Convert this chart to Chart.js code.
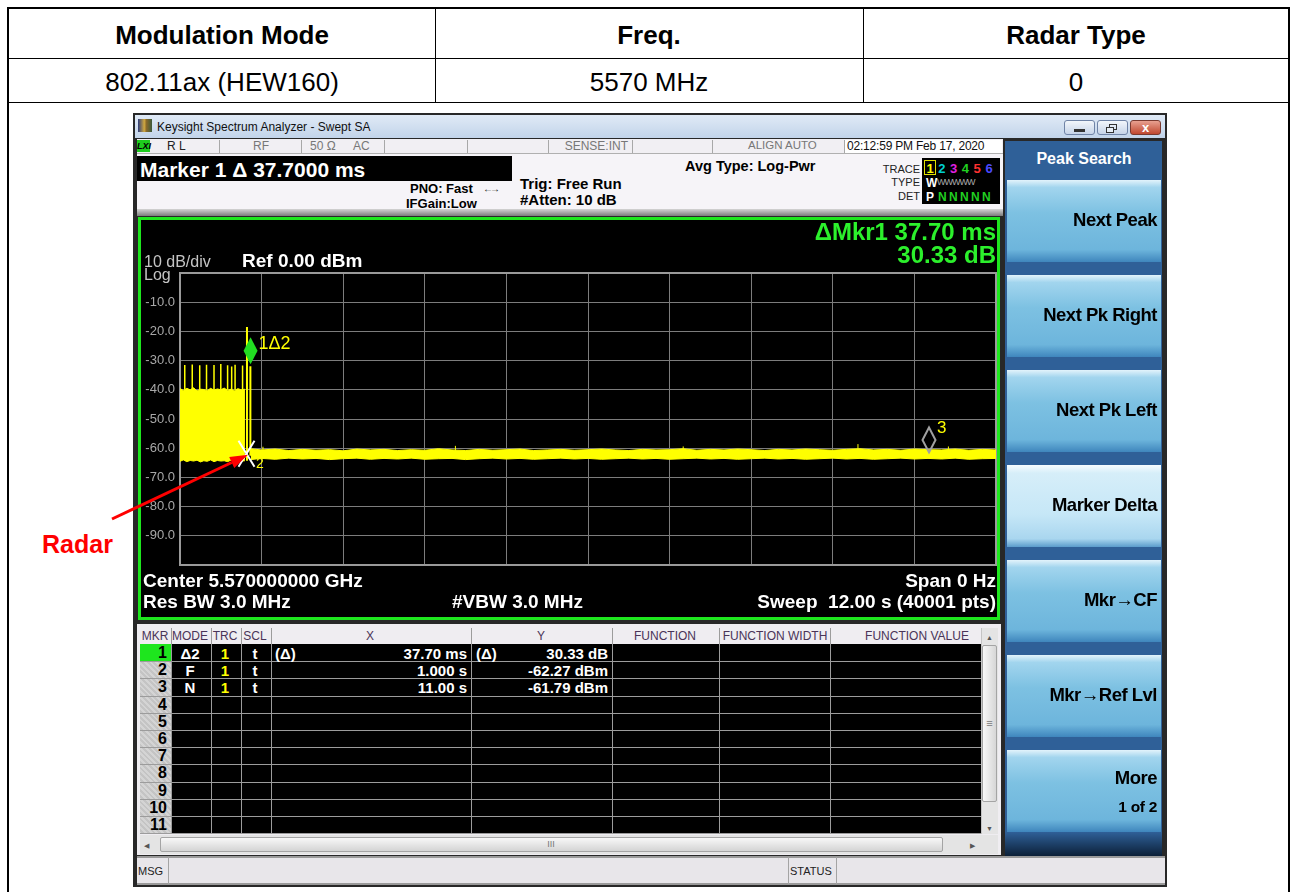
<!DOCTYPE html>
<html>
<head>
<meta charset="utf-8">
<title>Radar Type 0 - 5570 MHz</title>
<script src="https://cdn.jsdelivr.net/npm/chart.js@4.4.1/dist/chart.umd.min.js"></script>
<style>
    body { margin: 0; background: #fff; overflow: hidden; font-family: 'Liberation Sans', Arial, sans-serif; }
    #page { position: relative; width: 1291px; height: 892px; }
    .b { position: absolute; box-sizing: border-box; }
    .t { position: absolute; white-space: nowrap; line-height: 1; }
</style>
</head>
<body>
<div id="page"></div>
<script>
// time axis in seconds (span 0 Hz, 12 s sweep), level in dBm
const xGridTicks = [0, 1.2, 2.4, 3.6, 4.8, 6, 7.2, 8.4, 9.6, 10.8, 12];
const yTickValues = [0, -10, -20, -30, -40, -50, -60, -70, -80, -90, -100];
const yTickLabels = ['', '-10.0', '-20.0', '-30.0', '-40.0', '-50.0', '-60.0', '-70.0', '-80.0', '-90.0', ''];

// radar burst envelope (top / bottom of the yellow block)
const burstTimes = [0, 0.05, 0.10, 0.15, 0.20, 0.25, 0.30, 0.35, 0.40, 0.45, 0.50, 0.55, 0.60, 0.65, 0.70, 0.75, 0.80, 0.85, 0.90, 0.955];
const burstHigh = [-39.6, -40.2, -39.5, -40.0, -39.3, -40.4, -39.8, -39.9, -40.3, -39.5, -40.1, -39.7, -40.0, -39.4, -40.2, -39.8, -40.3, -39.6, -40.0, -39.8];
const burstLow = [-64.5, -64.0, -64.6, -64.2, -64.4, -64.1, -64.7, -64.3, -64.5, -64.0, -64.6, -64.2, -64.4, -64.3, -64.6, -64.1, -64.5, -64.2, -64.4, -64.3];

// pulses sticking out of the burst
const pulseTimes = [0.07, 0.18, 0.29, 0.39, 0.50, 0.60, 0.70, 0.76, 0.81, 0.92];
const pulseTops = [-31.5, -31.3, -31.6, -31.4, -31.5, -31.2, -31.6, -32.0, -31.4, -31.7];
const pulseBase = -40;

// the two lines at the end of the burst
const edgeTimes = [0.985, 1.035];
const edgeTops = [-18.5, -31.9];
const edgeBases = [-64.3, -62.6];

// noise floor after the burst
const floorTimes = [1.04, 1.2, 1.4, 1.6, 1.8, 2.0, 2.2, 2.4, 2.6, 2.8, 3.0, 3.2, 3.4, 3.6, 3.8, 4.0, 4.2, 4.4, 4.6, 4.8,
    5.0, 5.2, 5.4, 5.6, 5.8, 6.0, 6.2, 6.4, 6.6, 6.8, 7.0, 7.2, 7.4, 7.6, 7.8, 8.0, 8.2, 8.4, 8.6, 8.8,
    9.0, 9.2, 9.4, 9.6, 9.8, 10.0, 10.2, 10.4, 10.6, 10.8, 11.0, 11.2, 11.4, 11.6, 11.8, 12.0];
const floorHigh = [-60.2, -60.6, -60.3, -60.8, -60.4, -60.7, -60.5, -60.9, -60.3, -60.6,
    -60.4, -60.8, -60.5, -60.7, -60.2, -60.6, -60.8, -60.4, -60.7, -60.5,
    -60.3, -60.8, -60.6, -60.4, -60.7, -60.5, -60.3, -60.6, -60.8, -60.4,
    -60.6, -60.5, -60.2, -60.7, -60.4, -60.6, -60.3, -60.5, -60.8, -60.4,
    -60.6, -60.3, -60.5, -60.7, -60.4, -60.2, -60.6, -60.4, -60.7, -60.3,
    -60.5, -60.6, -60.3, -60.7, -60.4, -60.6];
const floorLow = [-63.9, -63.5, -63.8, -63.4, -63.7, -63.5, -63.9, -63.6, -63.4, -63.8,
    -63.5, -63.7, -63.4, -63.8, -63.6, -63.5, -63.9, -63.6, -63.4, -63.7,
    -63.5, -63.8, -63.6, -63.4, -63.7, -63.5, -63.8, -63.6, -63.4, -63.7,
    -63.5, -63.8, -63.6, -63.4, -63.7, -63.5, -63.8, -63.6, -63.4, -63.7,
    -63.5, -63.8, -63.6, -63.4, -63.7, -63.5, -63.8, -63.6, -63.4, -63.7,
    -63.5, -63.7, -63.4, -63.8, -63.6, -63.5];
const blipTimes = [1.22, 4.05, 7.4, 9.97, 11.3];
const blipTops = [-59.5, -59.2, -59.4, -58.6, -59.4];

// markers
const mkrNames = ['1\u03942', '2', '3'];
const mkrTimes = [1.0377, 1.000, 11.00];
const mkrLevels = [-31.94, -62.27, -61.79];

// marker table rows
const mkrModes = ['\u03942', 'F', 'N'];
const mkrX = ['37.70 ms', '1.000 s', '11.00 s'];
const mkrY = ['30.33 dB', '-62.27 dBm', '-61.79 dBm'];

const softkeys = ['Next Peak', 'Next Pk Right', 'Next Pk Left', 'Marker Delta', 'Mkr\u2192CF', 'Mkr\u2192Ref Lvl', 'More'];

const page = document.getElementById('page');

function box(x, y, w, h, css) {
    const d = document.createElement('div');
    d.className = 'b';
    d.style.cssText = `left:${x}px;top:${y}px;width:${w}px;height:${h}px;` + (css || '');
    page.appendChild(d);
    return d;
}

function txt(str, x, base, size, css, align) {
    const d = document.createElement('div');
    d.className = 't';
    d.textContent = str;
    let pos = `top:${(base - 0.847 * size).toFixed(1)}px;font-size:${size}px;`;
    if (align === 'r') pos += `right:${1291 - x}px;`;
    else if (align === 'c') pos += `left:${x - 300}px;width:600px;text-align:center;`;
    else pos += `left:${x}px;`;
    d.style.cssText = pos + (css || '');
    page.appendChild(d);
    return d;
}

const B = 'font-weight:bold;';
const K = 'background:#000;';

// report table
box(7, 7, 1283, 2, K);
box(7, 7, 2, 885, K);
box(1288, 7, 2, 885, K);
box(8, 58, 1281, 1, K);
box(8, 102, 1281, 1, K);
box(435, 8, 1, 95, K);
box(863, 8, 1, 95, K);
txt('Modulation Mode', 222, 44, 26, B, 'c');
txt('Freq.', 649, 44, 26, B, 'c');
txt('Radar Type', 1076, 44, 26, B, 'c');
txt('802.11ax (HEW160)', 222, 91, 26, '', 'c');
txt('5570 MHz', 649, 91, 26, '', 'c');
txt('0', 1076, 91, 26, '', 'c');

// analyzer window
box(133, 113, 1034, 774, 'background:#282828');
box(135, 115, 1030, 23, 'background:linear-gradient(#e0eaf6,#c2d4ea)');
box(138, 119, 14, 13, 'background:linear-gradient(90deg,#2c3c7c,#d0a840 45%,#8a6a2a 60%,#3c5a3c)');
txt('Keysight Spectrum Analyzer - Swept SA', 157, 131, 12, 'color:#111');
box(1064, 120, 31, 15, 'border:1px solid #6f83a6;border-radius:3px;background:linear-gradient(#f2f6fb,#c6d4e8)');
box(1074, 129, 11, 3, 'background:#333');
box(1097, 120, 31, 15, 'border:1px solid #6f83a6;border-radius:3px;background:linear-gradient(#f2f6fb,#c6d4e8)');
box(1109, 124, 8, 6, 'border:1px solid #333');
box(1106, 127, 8, 6, 'border:1px solid #333;background:#e6edf6');
box(1130, 120, 31, 15, 'border:1px solid #7a3a30;border-radius:3px;background:linear-gradient(#e8a090,#c04830)');
txt('x', 1145.5, 132, 13, B + 'color:#fff', 'c');

// status line
box(137, 139, 866, 15, 'background:#f1eff3;border-bottom:1px solid #b0b0b0');
box(137, 140, 13, 12, 'background:#1ecc1e');
txt('LXI', 137, 150, 9, B + 'font-style:italic;color:#000');
[219, 301, 384, 467, 548, 632, 712, 844].forEach(x => box(x, 140, 1, 13, 'background:#a8a8a8'));
txt('R L', 167, 150, 12, 'color:#222');
txt('RF', 253, 150, 12, 'color:#777');
txt('50 \u03a9', 310, 150, 12, 'color:#777');
txt('AC', 353, 150, 12, 'color:#777');
txt('SENSE:INT', 628, 150, 12, 'color:#777', 'r');
txt('ALIGN AUTO', 748, 150, 11.5, 'color:#777');
box(845, 140, 157, 13, 'background:#fff');
txt('02:12:59 PM Feb 17, 2020', 847, 150, 12, 'color:#111;letter-spacing:-0.2px');

// setup summary
box(137, 154, 866, 55, 'background:#f6f4f8');
box(137, 156, 375, 25, K);
txt('Marker 1 \u0394 37.7000 ms', 140, 177, 21, B + 'color:#fff');
txt('PNO: Fast', 410, 193, 13, B);
txt('\u2190\u2192', 483, 192, 10, 'color:#222;letter-spacing:-3px');
txt('IFGain:Low', 406, 208, 13, B);
txt('Trig: Free Run', 520, 189, 15, B);
txt('#Atten: 10 dB', 520, 205, 15, B);
txt('Avg Type: Log-Pwr', 685, 171, 14.5, B);
txt('TRACE', 920, 173, 11, 'color:#222', 'r');
txt('TYPE', 920, 186, 11, 'color:#222', 'r');
txt('DET', 920, 200, 11, 'color:#222', 'r');
box(922, 158, 78, 46, K);
box(924, 160, 12, 15, 'border:1px solid #e0e000');
const traceColors = ['#ffff00', '#00d0d0', '#e020e0', '#20d020', '#ff3030', '#4a4aff'];
traceColors.forEach((c, i) => txt(String(i + 1), 930 + i * 11.8, 173, 13, B + 'color:' + c, 'c'));
txt('W', 926, 187, 12, B + 'color:#fff');
txt('WWWWW', 937, 186, 9, 'color:#aaa;letter-spacing:-1px');
txt('P', 926, 201, 12, B + 'color:#fff');
txt('N N N N N', 938, 201, 12, B + 'color:#20d020;letter-spacing:-0.5px');

box(137, 209, 866, 7, 'background:linear-gradient(#d4d4d4,#7c7c7c)');

// trace window
box(138, 217, 862, 403, 'border:3px solid #1ee61e');
const cv = document.createElement('canvas');
cv.width = 856;
cv.height = 397;
cv.style.cssText = 'position:absolute;left:141px;top:220px;background:#000;';
page.appendChild(cv);

function pts(xs, ys) {
    return xs.map((x, i) => ({ x: x, y: ys[i] }));
}

function sticks(xs, bases, tops) {
    return xs.flatMap((x, i) => [
        { x: x, y: Array.isArray(bases) ? bases[i] : bases },
        { x: x, y: tops[i] },
        { x: x, y: null }
    ]);
}

function diamond(g, x, tip, w, h) {
    g.beginPath();
    g.moveTo(x, tip);
    g.lineTo(x + w / 2, tip - h / 2);
    g.lineTo(x, tip - h);
    g.lineTo(x - w / 2, tip - h / 2);
    g.closePath();
}

const YEL = '#ffff00';

const scopePlugin = {
    id: 'scope',
    beforeDatasetsDraw(chart) {
        const a = chart.chartArea, g = chart.ctx;
        g.save();
        g.strokeStyle = '#9a9a9a';
        g.lineWidth = 2;
        g.strokeRect(a.left, a.top, a.right - a.left, a.bottom - a.top);
        g.restore();
    },
    afterDatasetsDraw(chart) {
        const g = chart.ctx, sx = chart.scales.x, sy = chart.scales.y;
        const px = mkrTimes.map(t => sx.getPixelForValue(t));
        const py = mkrLevels.map(v => sy.getPixelForValue(v));
        g.save();
        // marker 1, filled diamond resting on the trace
        diamond(g, px[0], py[0] - 2, 14, 27);
        g.fillStyle = '#22dd22';
        g.fill();
        // marker 2, cross
        g.strokeStyle = '#ffffff';
        g.lineWidth = 2;
        g.beginPath();
        g.moveTo(px[1] - 9.5, py[1] - 14);
        g.lineTo(px[1] + 6.5, py[1] + 12);
        g.moveTo(px[1] + 6.5, py[1] - 14);
        g.lineTo(px[1] - 9.5, py[1] + 12);
        g.stroke();
        // marker 3, hollow diamond
        diamond(g, px[2] + 1, py[2] - 1, 13, 25);
        g.strokeStyle = '#a0a0a0';
        g.lineWidth = 2;
        g.stroke();
        g.fillStyle = YEL;
        g.textBaseline = 'alphabetic';
        g.font = '18px "Liberation Sans", Arial, sans-serif';
        g.fillText(mkrNames[0], px[0] + 8, py[0] - 17);
        g.font = '14px "Liberation Sans", Arial, sans-serif';
        g.fillText(mkrNames[1], px[1] + 8, py[1] + 13);
        g.font = '17px "Liberation Sans", Arial, sans-serif';
        g.fillText(mkrNames[2], px[2] + 9, py[2] - 20);
        g.restore();
    }
};

const chart = new Chart(cv.getContext('2d'), {
    type: 'line',
    data: {
        datasets: [
            { data: pts(burstTimes, burstHigh), borderColor: YEL, backgroundColor: YEL, borderWidth: 1, fill: '+1' },
            { data: pts(burstTimes, burstLow), borderColor: YEL, borderWidth: 1, fill: false },
            { data: sticks(pulseTimes, pulseBase, pulseTops), borderColor: YEL, borderWidth: 1.5, fill: false },
            { data: sticks(edgeTimes, edgeBases, edgeTops), borderColor: YEL, borderWidth: 2, fill: false },
            { data: pts(floorTimes, floorHigh), borderColor: YEL, backgroundColor: YEL, borderWidth: 1, fill: '+1' },
            { data: pts(floorTimes, floorLow), borderColor: YEL, borderWidth: 1, fill: false },
            { data: sticks(blipTimes, -61, blipTops), borderColor: YEL, borderWidth: 1, fill: false }
        ]
    },
    options: {
        responsive: false,
        animation: false,
        layout: { padding: { left: 0, right: 1, top: 53, bottom: 52 } },
        elements: { point: { radius: 0 }, line: { tension: 0 } },
        plugins: { legend: { display: false }, tooltip: { enabled: false } },
        scales: {
            x: {
                type: 'linear',
                min: 0,
                max: 12,
                grid: { color: '#7c7c7c', lineWidth: 1, drawTicks: false },
                border: { display: false },
                ticks: { display: false },
                afterBuildTicks: axis => { axis.ticks = xGridTicks.map(v => ({ value: v })); },
                afterFit: axis => { axis.height = 0; }
            },
            y: {
                min: -100,
                max: 0,
                grid: { color: '#7c7c7c', lineWidth: 1, drawTicks: false },
                border: { color: '#9a9a9a', width: 2 },
                ticks: {
                    color: '#a8a8a8',
                    padding: 5,
                    font: { family: 'Liberation Sans', size: 13 },
                    callback: v => yTickLabels[yTickValues.indexOf(v)]
                },
                afterBuildTicks: axis => { axis.ticks = yTickValues.map(v => ({ value: v })); },
                afterFit: axis => { axis.width = 39; }
            }
        }
    },
    plugins: [scopePlugin]
});

// trace window annotations
const W = B + 'color:#fff;';
txt('10 dB/div', 144, 268, 16, 'color:#c4c4c4');
txt('Log', 144, 281, 16, 'color:#c4c4c4');
txt('Ref 0.00 dBm', 242, 267, 19, W);
txt('\u0394Mkr1 37.70 ms', 996, 240, 24, B + 'color:#2cf02c', 'r');
txt('30.33 dB', 996, 263, 24, B + 'color:#2cf02c', 'r');
txt('Center 5.570000000 GHz', 143, 587, 19, W);
txt('Res BW 3.0 MHz', 143, 608, 19, W);
txt('#VBW 3.0 MHz', 452, 608, 19, W);
txt('Span 0 Hz', 996, 587, 19, W, 'r');
txt('Sweep\u00a0\u00a012.00 s (40001 pts)', 996, 608, 19, W, 'r');

// marker table
box(137, 624, 864, 231, 'background:#efedf1');
const heads = ['MKR', 'MODE', 'TRC', 'SCL', 'X', 'Y', 'FUNCTION', 'FUNCTION WIDTH', 'FUNCTION VALUE'];
const headX = [155, 190, 225, 255, 370, 541, 665, 775, 917];
heads.forEach((h, i) => txt(h, headX[i], 640, 12, 'color:#4a3458', 'c'));
box(140, 644, 841, 190, K);
box(140, 644, 31, 190, 'background:repeating-linear-gradient(45deg,#d4d4d4 0 2px,#c4c4c4 2px 4px)');
box(140, 644, 31, 17, 'background:#1ee61e');
for (let i = 1; i <= 11; i++) box(140, 644 + i * 17.2, 841, 1, 'background:#9c9c9c');
[171, 211, 241, 271, 471, 612, 719, 830].forEach(x => box(x, 628, 1, 206, 'background:#9c9c9c'));
for (let r = 0; r < 11; r++) {
    const base = 644 + r * 17.2 + 14.5;
    txt(String(r + 1), 167, base, 16, B + 'color:#000', 'r');
    if (r < 3) {
        txt(mkrModes[r], 190, base, 15, W, 'c');
        txt('1', 225, base, 15, B + 'color:#ffff00', 'c');
        txt('t', 255, base, 15, W, 'c');
        txt(mkrX[r], 467, base, 15, W, 'r');
        txt(mkrY[r], 608, base, 15, W, 'r');
    }
}
txt('(\u0394)', 275, 658.5, 15, W);
txt('(\u0394)', 476, 658.5, 15, W);
// scrollbars
box(981, 628, 17, 206, 'background:#e4e4e4;border-left:1px solid #c4c4c4');
txt('\u25b2', 989.5, 640, 7, 'color:#555', 'c');
box(982, 645, 15, 157, 'background:linear-gradient(90deg,#f8f8f8,#d6d6d6);border:1px solid #a4a4a4;border-radius:2px');
txt('\u2261', 989.5, 727, 11, 'color:#777', 'c');
txt('\u25bc', 989.5, 831, 7, 'color:#555', 'c');
box(140, 835, 858, 19, 'background:#e4e4e4');
txt('\u25c0', 146, 848, 7, 'color:#555', 'c');
box(160, 837, 783, 15, 'background:linear-gradient(#f8f8f8,#d4d4d4);border:1px solid #a4a4a4;border-radius:2px');
txt('III', 551, 848, 9, 'color:#777', 'c');
txt('\u25b6', 972, 848, 7, 'color:#555', 'c');

// message bar
box(137, 856, 1028, 29, 'background:#e8e6ea;border-top:2px solid #9a9a9a;border-bottom:2px solid #9a9a9a');
[168, 788, 836].forEach(x => box(x, 857, 1, 27, 'background:#a4a4a4'));
txt('MSG', 138, 875, 11, 'color:#222');
txt('STATUS', 790, 875, 11, 'color:#222');

// soft key panel
box(1005, 141, 157, 715, 'background:#2f6098');
txt('Peak Search', 1084, 165, 16, B + 'color:#fff', 'c');
softkeys.forEach((label, i) => {
    const top = 180 + i * 95;
    const sel = label === 'Marker Delta';
    box(1007, top, 154, 82, sel
        ? 'background:linear-gradient(#f6fcff 0%,#d6eef9 10%,#c6e7f7 60%,#a9d6ef 90%,#5b9ccb 100%)'
        : 'background:linear-gradient(#e2f3fb 0%,#a2d5ee 9%,#7dc1e2 40%,#6db5dc 85%,#3f86bd 100%)');
    txt(label, 1157, top + (label === 'More' ? 35 : 47), 18.5, B + 'color:#000;letter-spacing:-0.5px', 'r');
});
txt('1 of 2', 1157, 812, 15.5, B + 'color:#000;letter-spacing:-0.3px', 'r');
box(1005, 832, 157, 24, 'background:linear-gradient(#2f6098,#0c2038)');

// "Radar" call-out pointing at marker 2
txt('Radar', 42, 553, 25, B + 'color:#ff0000');
const tipX = 141 + chart.scales.x.getPixelForValue(mkrTimes[1]);
const tipY = 220 + chart.scales.y.getPixelForValue(mkrLevels[1]);
const sx0 = 112, sy0 = 519;
const len = Math.hypot(tipX - sx0, tipY - sy0);
const ux = (tipX - sx0) / len, uy = (tipY - sy0) / len;
const bx = tipX - 18 * ux, by = tipY - 18 * uy;
const svg = document.createElementNS('http://www.w3.org/2000/svg', 'svg');
svg.setAttribute('width', 1291);
svg.setAttribute('height', 892);
svg.style.cssText = 'position:absolute;left:0;top:0;';
svg.innerHTML =
    `<line x1="${sx0}" y1="${sy0}" x2="${bx}" y2="${by}" stroke="#ff0000" stroke-width="3"/>` +
    `<polygon points="${tipX},${tipY} ${bx + 6 * uy},${by - 6 * ux} ${bx - 6 * uy},${by + 6 * ux}" fill="#ff0000"/>`;
page.appendChild(svg);
</script>
</body>
</html>
